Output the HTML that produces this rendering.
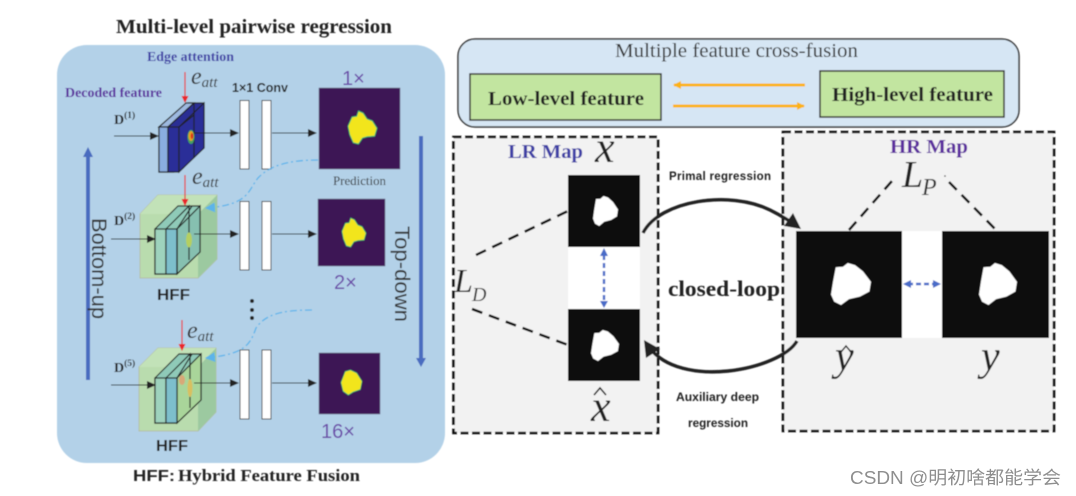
<!DOCTYPE html>
<html><head><meta charset="utf-8">
<style>
html,body{margin:0;padding:0;background:#fff;width:1076px;height:496px;overflow:hidden}
svg{display:block}
.se{font-family:"Liberation Serif",serif}
.sa{font-family:"Liberation Sans",sans-serif}
.b{font-weight:bold}
.i{font-style:italic}
</style></head><body>
<svg width="1076" height="496" viewBox="0 0 1076 496" xmlns="http://www.w3.org/2000/svg">
<defs>
<filter id="s" x="-5%" y="-5%" width="110%" height="110%"><feGaussianBlur stdDeviation="0.55"/></filter>
<marker id="k" markerWidth="10" markerHeight="8" refX="8" refY="4" orient="auto" markerUnits="userSpaceOnUse"><path d="M0 0L9 4L0 8Z" fill="#222"/></marker>
<marker id="r" markerWidth="8" markerHeight="8" refX="6" refY="3.5" orient="auto" markerUnits="userSpaceOnUse"><path d="M0 0L7 3.5L0 7Z" fill="#e8262a"/></marker>
<marker id="c" markerWidth="11" markerHeight="10" refX="9" refY="5" orient="auto" markerUnits="userSpaceOnUse"><path d="M0 0L10 5L0 10Z" fill="#5cb4ea"/></marker>
<marker id="o" markerWidth="9" markerHeight="9" refX="7" refY="4" orient="auto" markerUnits="userSpaceOnUse"><path d="M0 0L8 4L0 8Z" fill="#fbb315"/></marker>
<path id="m" d="M12 10L30 9L42 0L60 5L80 20L100 45L96 68L72 80L45 86L25 100L8 92L0 75L5 45Z" stroke-linejoin="round"/>
<path id="v" d="M14 18L30 16L36 0L52 6L66 24L84 30L100 52L92 76L66 78L50 82L36 100L18 96L6 72L0 46Z" stroke-linejoin="round"/>
<path id="w" d="M20 6L45 0L75 12L100 45L92 78L58 88L35 100L10 85L0 50Z" stroke-linejoin="round"/>
</defs>
<g filter="url(#s)">
<!-- left panel -->
<rect x="57" y="45" width="388" height="418" rx="30" fill="#b3d1e8"/>
<text x="116" y="33" class="se b" font-size="20" fill="#222" textLength="276" lengthAdjust="spacingAndGlyphs">Multi-level pairwise regression</text>
<text x="147" y="61" class="se b" font-size="13.5" fill="#3f3fa5" textLength="87" lengthAdjust="spacingAndGlyphs">Edge attention</text>
<text x="65" y="97" class="se b" font-size="14" fill="#5b2d9e" textLength="97" lengthAdjust="spacingAndGlyphs">Decoded feature</text>
<text x="114" y="124" class="se b" font-size="14" fill="#222">D<tspan font-size="9.5" dy="-6">(1)</tspan></text>
<text x="114" y="225" class="se b" font-size="14" fill="#222">D<tspan font-size="9.5" dy="-6">(2)</tspan></text>
<text x="114" y="372" class="se b" font-size="14" fill="#222">D<tspan font-size="9.5" dy="-6">(5)</tspan></text>
<text x="191" y="84" class="se i" font-size="24" fill="#333">e<tspan font-size="15" dy="3">att</tspan></text>
<text x="192" y="184" class="se i" font-size="24" fill="#333">e<tspan font-size="15" dy="3">att</tspan></text>
<text x="187" y="338" class="se i" font-size="24" fill="#333">e<tspan font-size="15" dy="3">att</tspan></text>
<text x="232" y="92" class="sa b" font-size="12.5" fill="#222" textLength="56" lengthAdjust="spacingAndGlyphs">1×1 Conv</text>

<!-- block 1 -->
<g stroke="#222" stroke-width="1.2">
<path d="M159 127L188 103H204L204 148L174 172H159Z" fill="#2c2f94"/>
<path d="M159 127L186 103H194L168 127Z" fill="#9db9e0"/>
<rect x="159" y="127" width="9" height="45" fill="#8aaee0"/>
<rect x="168" y="127" width="11" height="45" fill="#2a2f98"/>
<path d="M179 127L204 103V148L179 172Z" fill="#2a2f98"/>
<path d="M168 127L194 103M179 127L194 115M194 103V158" fill="none"/>
</g>
<ellipse cx="191" cy="137" rx="3.5" ry="7" fill="#46a060"/>
<ellipse cx="191" cy="136" rx="2.5" ry="5" fill="#e8a020"/>
<ellipse cx="192" cy="136" rx="1.3" ry="3" fill="#d8301f"/>

<!-- cube 2 -->
<path d="M140 214L158 195H217V259L198 278H140Z" fill="#b9dcae" stroke="#b5bfa8" stroke-width="1"/>
<path d="M198 214L217 195V259L198 278Z" fill="#9cc9a0"/>
<path d="M140 214L158 195H217L198 214Z" fill="#c2e2b8"/>
<g stroke="#222" stroke-width="1.2">
<path d="M155 229L178 206H200V252L177 274H155Z" fill="#8fcab8"/>
<path d="M177 229L200 206V252L177 274Z" fill="#86c0b0"/>
<rect x="155" y="229" width="11" height="45" fill="#9ed3bd"/>
<rect x="166" y="229" width="11" height="45" fill="#7dbfcc"/>
<path d="M166 229L189 206V260M177 229L192 206M177 229V274" fill="none"/>
</g>
<ellipse cx="189" cy="240" rx="3" ry="7.5" fill="#b5cf60"/>

<!-- cube 3 -->
<path d="M139 367L158 348H216V412L198 431H139Z" fill="#b9dcae" stroke="#b5bfa8" stroke-width="1"/>
<path d="M198 367L216 348V412L198 431Z" fill="#9cc9a0"/>
<path d="M139 367L158 348H216L198 367Z" fill="#c2e2b8"/>
<g stroke="#222" stroke-width="1.2">
<path d="M155 378L179 354H201V400L177 423H155Z" fill="#8fcab8"/>
<path d="M177 378L201 354V400L177 423Z" fill="#a9d59a"/>
<rect x="155" y="378" width="11" height="45" fill="#9ed3bd"/>
<rect x="166" y="378" width="11" height="45" fill="#7dbfcc"/>
<path d="M166 378L190 354V408M177 378L192 354" fill="none"/>
</g>
<ellipse cx="190" cy="388" rx="2.5" ry="9" fill="#d8c060"/>
<ellipse cx="182" cy="380" rx="3" ry="5" fill="#d8a878"/>

<!-- input / output arrows -->
<g stroke="#222" stroke-width="1.1" fill="none">
<path d="M114 136H158" marker-end="url(#k)"/>
<path d="M194 133H238" marker-end="url(#k)"/>
<path d="M272 133H316" marker-end="url(#k)"/>
<path d="M111 239H155" marker-end="url(#k)"/>
<path d="M194 234H238" marker-end="url(#k)"/>
<path d="M272 234H316" marker-end="url(#k)"/>
<path d="M111 385H155" marker-end="url(#k)"/>
<path d="M194 383H238" marker-end="url(#k)"/>
<path d="M272 383H316" marker-end="url(#k)"/>
</g>
<g stroke="#e8262a" stroke-width="1.2" fill="none">
<path d="M185 72V102" marker-end="url(#r)"/>
<path d="M185 175V205" marker-end="url(#r)"/>
<path d="M182 320V350" marker-end="url(#r)"/>
</g>
<!-- conv bars -->
<g fill="#fff" stroke="#444" stroke-width="1">
<rect x="240" y="100.5" width="9" height="68.5"/><rect x="262" y="100.5" width="9" height="68.5"/>
<rect x="240" y="201.5" width="9" height="68.5"/><rect x="262" y="201.5" width="9" height="68.5"/>
<rect x="240" y="350" width="9" height="69"/><rect x="262" y="350" width="9" height="69"/>
</g>
<!-- predictions -->
<rect x="319" y="88" width="81" height="81" fill="#3c1655" stroke="#6d6d8a" stroke-width=".6"/>
<rect x="318" y="199" width="67" height="67" fill="#3c1655" stroke="#6d6d8a" stroke-width=".6"/>
<rect x="319" y="353" width="61" height="61" fill="#3c1655" stroke="#6d6d8a" stroke-width=".6"/>
<use href="#v" transform="translate(348 111) scale(.29 .33)" fill="#f2e51f" stroke="#3bb878" stroke-width="3"/>
<use href="#v" transform="translate(342 218) scale(.24 .29)" fill="#f2e51f" stroke="#3bb878" stroke-width="3"/>
<use href="#w" transform="translate(341 370) scale(.21 .25)" fill="#f2e51f" stroke="#3bb878" stroke-width="3"/>
<text x="342" y="85" class="sa" font-size="20" fill="#6b48a8">1×</text>
<text x="334" y="289" class="sa" font-size="20" fill="#6b48a8">2×</text>
<text x="321" y="438" class="sa" font-size="20" fill="#6b48a8" textLength="34" lengthAdjust="spacingAndGlyphs">16×</text>
<text x="333" y="185" class="se" font-size="12.5" fill="#333" textLength="53" lengthAdjust="spacingAndGlyphs">Prediction</text>
<text x="157" y="300" class="sa b" font-size="16" fill="#222" textLength="33" lengthAdjust="spacingAndGlyphs">HFF</text>
<text x="156" y="451" class="sa b" font-size="16" fill="#222" textLength="32" lengthAdjust="spacingAndGlyphs">HFF</text>
<text x="133" y="481" class="sa b" font-size="16" fill="#222" textLength="42" lengthAdjust="spacingAndGlyphs">HFF:</text>
<text x="178" y="481" class="se b" font-size="17" fill="#222" textLength="182" lengthAdjust="spacingAndGlyphs">Hybrid Feature Fusion</text>
<!-- dashed cyan -->
<g stroke="#5cb4ea" stroke-width="1.3" fill="none" stroke-dasharray="7 3 2 3">
<path d="M318 160C290 160 270 165 258 178C248 190 250 205 206 208" marker-end="url(#c)"/>
<path d="M312 310C280 310 265 315 256 328C250 345 245 354 206 358" marker-end="url(#c)"/>
</g>
<circle cx="252" cy="301" r="2" fill="#222"/><circle cx="252" cy="310" r="2" fill="#222"/><circle cx="252" cy="318" r="2" fill="#222"/>
<!-- side arrows -->
<path d="M88 380V155" stroke="#4a6cc0" stroke-width="4" fill="none"/><path d="M83 157L88 147L93 157Z" fill="#4a6cc0"/>
<path d="M421 136V360" stroke="#4a6cc0" stroke-width="4" fill="none"/><path d="M416 358L421 367L426 358Z" fill="#4a6cc0"/>
<text transform="translate(92 218) rotate(90)" class="sa" font-size="21" fill="#333" textLength="101" lengthAdjust="spacingAndGlyphs">Bottom-up</text>
<text transform="translate(395 226) rotate(90)" class="sa" font-size="21" fill="#333" textLength="96" lengthAdjust="spacingAndGlyphs">Top-down</text>

<!-- top-right box -->
<rect x="458" y="39" width="561" height="88" rx="17" fill="#d6e6f4" stroke="#333" stroke-width="1.5"/>
<text x="615" y="57" class="se" font-size="20" fill="#333" textLength="243" lengthAdjust="spacingAndGlyphs">Multiple feature cross-fusion</text>
<rect x="470" y="74" width="191" height="46" fill="#c2e5a0" stroke="#333" stroke-width="1.5"/>
<rect x="820" y="71" width="184" height="46" fill="#c2e5a0" stroke="#333" stroke-width="1.5"/>
<text x="488" y="105" class="se b" font-size="20" fill="#222" textLength="156" lengthAdjust="spacingAndGlyphs">Low-level feature</text>
<text x="832" y="101" class="se b" font-size="20" fill="#222" textLength="161" lengthAdjust="spacingAndGlyphs">High-level feature</text>
<path d="M805 85H674" stroke="#fbb315" stroke-width="3" fill="none" marker-end="url(#o)"/>
<path d="M673 106H804" stroke="#fbb315" stroke-width="3" fill="none" marker-end="url(#o)"/>

<!-- LR box -->
<rect x="453.5" y="137" width="204.5" height="296" fill="#f2f2f2" stroke="#111" stroke-width="2.6" stroke-dasharray="8 3.5"/>
<rect x="783" y="132" width="271" height="299" fill="#f2f2f2" stroke="#111" stroke-width="2.6" stroke-dasharray="8 3.5"/>
<text x="508" y="158" class="se b" font-size="20" fill="#3f3fa5" textLength="75" lengthAdjust="spacingAndGlyphs">LR Map</text>
<text x="890" y="153" class="se b" font-size="20" fill="#5b2d9e" textLength="78" lengthAdjust="spacingAndGlyphs">HR Map</text>
<text x="595" y="162" class="se i" font-size="44" fill="#222">x</text>
<text x="591" y="421" class="se i" font-size="44" fill="#222">x</text>
<path d="M594 395L600 388L606 395" fill="none" stroke="#222" stroke-width="1.6"/>

<!-- images -->
<rect x="568" y="247" width="72" height="62" fill="#fff"/>
<rect x="902" y="231" width="40" height="107" fill="#fff"/>
<rect x="568" y="175" width="72" height="72" fill="#0a0a0a"/>
<rect x="568" y="309" width="72" height="72" fill="#0a0a0a"/>
<rect x="796" y="231" width="106" height="107" fill="#0a0a0a"/>
<rect x="942" y="231" width="107" height="107" fill="#0a0a0a"/>
<use href="#m" transform="translate(593 196) scale(.25 .30)" fill="#fff"/>
<use href="#m" transform="translate(591 330) scale(.28 .31)" fill="#fff"/>
<use href="#m" transform="translate(831 263) scale(.40 .42)" fill="#fff"/>
<use href="#m" transform="translate(979 263) scale(.38 .42)" fill="#fff"/>

<!-- blue double arrows -->
<g stroke="#4a6cc8" stroke-width="2.4" fill="none" stroke-dasharray="5 3">
<path d="M604 255V303"/><path d="M908 284H936"/>
</g>
<path d="M600 256L604 248L608 256Z" fill="#4a6cc8"/>
<path d="M600 301L604 308L608 301Z" fill="#4a6cc8"/>
<path d="M911 280L903 284L911 288Z" fill="#4a6cc8"/>
<path d="M933 280L941 284L933 288Z" fill="#4a6cc8"/>

<!-- dashed connectors -->
<g stroke="#111" stroke-width="2.6" fill="none" stroke-dasharray="11 7">
<path d="M476 255L568 211"/><path d="M472 309L568 345"/>
<path d="M849 230L892 181"/><path d="M949 182L996 230"/>
</g>
<text x="454" y="292" class="se i" font-size="34" fill="#222">L</text>
<text x="472" y="301" class="se i" font-size="20" fill="#333">D</text>
<text x="902" y="187" class="se i" font-size="38" fill="#222">L</text>
<text x="922" y="195" class="se i" font-size="24" fill="#333">P</text>
<circle cx="945" cy="176" r=".8" fill="#333"/>
<text x="835" y="370" class="se i" font-size="42" fill="#222">y</text>
<path d="M841 352L846 346L851 352" fill="none" stroke="#222" stroke-width="1.4"/>
<text x="981" y="370" class="se i" font-size="42" fill="#222">y</text>

<!-- loops -->
<path d="M643 233C660 200 730 190 770 210C782 216 790 221 798 227" fill="none" stroke="#222" stroke-width="3.4"/>
<path d="M784 226L801 229L793 213Z" fill="#222"/>
<path d="M797 341C780 370 680 390 649 347" fill="none" stroke="#222" stroke-width="3.4"/>
<path d="M644 340L660 349L646 358Z" fill="#222"/>
<text x="668" y="296" class="se b" font-size="22" fill="#222" textLength="112" lengthAdjust="spacingAndGlyphs">closed-loop</text>
<text x="669" y="180" class="sa b" font-size="11.5" fill="#222" textLength="102" lengthAdjust="spacing">Primal regression</text>
<text x="676" y="401" class="sa b" font-size="12" fill="#222" textLength="83" lengthAdjust="spacingAndGlyphs">Auxiliary deep</text>
<text x="688" y="427" class="sa b" font-size="12" fill="#222" textLength="60" lengthAdjust="spacingAndGlyphs">regression</text>
</g>
<text x="850" y="484" font-family="'Liberation Sans','Noto Sans CJK SC',sans-serif" font-size="18" fill="#8e8e8e" textLength="211" lengthAdjust="spacingAndGlyphs">CSDN @明初啥都能学会</text>
</svg>
</body></html>
